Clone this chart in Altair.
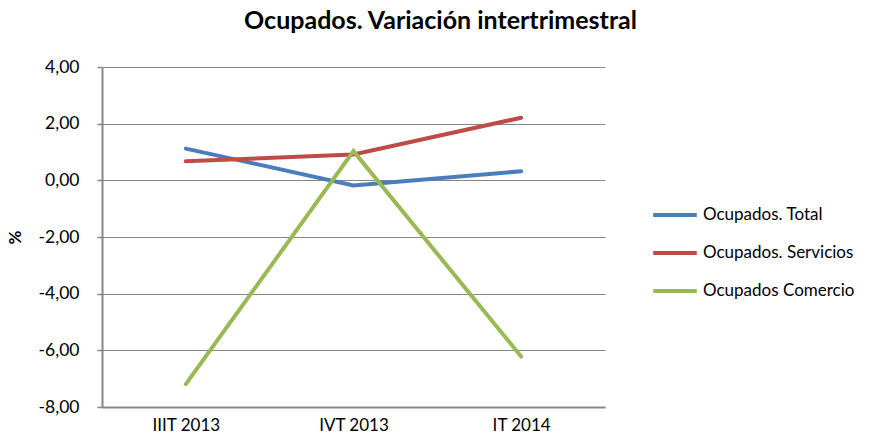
import altair as alt
import pandas as pd

categories = ["IIIT 2013", "IVT 2013", "IT 2014"]
series_names = ["Ocupados. Total", "Ocupados. Servicios", "Ocupados Comercio"]
total = [1.12, -0.18, 0.32]
servicios = [0.67, 0.91, 2.21]
comercio = [-7.19, 1.03, -6.22]
colors = ["#4A7EBB", "#BE4B48", "#98B954"]

rows = []
for name, vals in zip(series_names, [total, servicios, comercio]):
    for c, v in zip(categories, vals):
        rows.append({"trimestre": c, "serie": name, "valor": v})
df = pd.DataFrame(rows)

FONT = "Lato"

chart = alt.Chart(df).mark_line(strokeWidth=4, strokeCap="round").encode(
    x=alt.X("trimestre:N", sort=categories, title=None,
            scale=alt.Scale(paddingInner=0, paddingOuter=0.5),
            axis=alt.Axis(labelAngle=0, ticks=False, grid=False, domainColor="#868686",
                          domainWidth=2, labelFontSize=17, labelPadding=10,
                          labelColor="#000", labelFont=FONT)),
    y=alt.Y("valor:Q", title="%",
            scale=alt.Scale(domain=[-8, 4], nice=False),
            axis=alt.Axis(values=[-8, -6, -4, -2, 0, 2, 4], grid=True, gridColor="#868686",
                          gridWidth=1.2, domainColor="#868686", domainWidth=2,
                          tickColor="#868686", tickSize=5, tickWidth=1.5,
                          labelExpr="replace(replace(format(datum.value, '.2f'), '.', ','), '\u2212', '-')",
                          labelFontSize=17.5, labelPadding=18, labelColor="#000", labelFont=FONT,
                          titleFontSize=17, titleFont=FONT, titleFontWeight="bold",
                          titleColor="#000", titleX=-78, titleY=170, titleAngle=-90)),
    color=alt.Color("serie:N", sort=series_names,
                    scale=alt.Scale(domain=series_names, range=colors),
                    legend=alt.Legend(title=None, orient="none", legendX=549, legendY=124,
                                      symbolType="stroke", symbolStrokeWidth=4, symbolSize=1900,
                                      labelFontSize=17, labelFont=FONT, labelColor="#000",
                                      rowPadding=6, labelOffset=4)),
).properties(
    width=503, height=340,
    title=alt.TitleParams("Ocupados. Variación intertrimestral", fontSize=25, font=FONT,
                          fontWeight="bold", color="#000", anchor="middle", dx=87, offset=24),
    autosize=alt.AutoSizeParams(type="none"),
    padding={"left": 94, "top": 59, "right": 268, "bottom": 30},
).configure_view(stroke=None)

chart.save("out.html", embed_options={"renderer": "svg", "actions": False})
